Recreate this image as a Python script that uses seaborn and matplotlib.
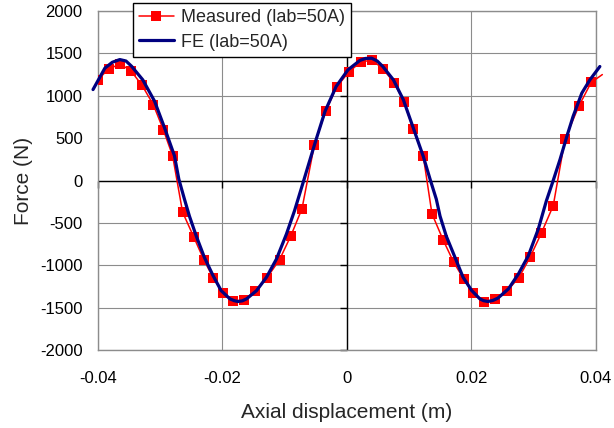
import numpy as np
import pandas as pd
import matplotlib
matplotlib.use('Agg')
import matplotlib.pyplot as plt
from matplotlib.lines import Line2D
import seaborn as sns

# Measured force vs axial displacement (lab = 50A)
meas_x = [-0.0400, -0.0383, -0.0364, -0.0347, -0.0329, -0.0311, -0.0295, -0.0280,
          -0.0264, -0.0246, -0.0230, -0.0215, -0.0199, -0.0183, -0.0165, -0.0148,
          -0.0128, -0.0108, -0.0090, -0.0072, -0.0052, -0.0034, -0.0016, 0.0004,
          0.0023, 0.0041, 0.0058, 0.0076, 0.0092, 0.0107, 0.0123, 0.0137,
          0.0155, 0.0172, 0.0188, 0.0203, 0.0221, 0.0239, 0.0257, 0.0277,
          0.0295, 0.0313, 0.0332, 0.0351, 0.0373, 0.0393, 0.0411]
meas_y = [1188, 1318, 1373, 1294, 1121, 894, 600, 291,
          -373, -667, -933, -1145, -1326, -1424, -1408, -1306,
          -1145, -933, -655, -333, 424, 815, 1106, 1286,
          1400, 1420, 1318, 1156, 929, 604, 291, -392,
          -702, -965, -1161, -1333, -1439, -1404, -1309, -1145,
          -902, -620, -298, 490, 875, 1157, 1250]

# FE prediction (lab = 50A)
fe_x = [-0.0408, -0.0389, -0.0377, -0.0365, -0.0355, -0.0346, -0.0328, -0.0309,
        -0.0293, -0.0277, -0.0270, -0.0261, -0.0253, -0.0242, -0.0229, -0.0215,
        -0.0202, -0.0188, -0.0181, -0.0175, -0.0168, -0.0161, -0.0145, -0.0129,
        -0.0113, -0.0097, -0.0084, -0.0070, -0.0051, -0.0035, -0.0017, 0.0002,
        0.0021, 0.0030, 0.0040, 0.0049, 0.0058, 0.0075, 0.0091, 0.0107,
        0.0123, 0.0134, 0.0144, 0.0150, 0.0160, 0.0174, 0.0187, 0.0201,
        0.0214, 0.0220, 0.0227, 0.0235, 0.0243, 0.0260, 0.0276, 0.0292,
        0.0308, 0.0321, 0.0332, 0.0343, 0.0354, 0.0364, 0.0378, 0.0391, 0.0407]
fe_y = [1073, 1325, 1395, 1427, 1410, 1348, 1188, 935,
        622, 290, 15, -220, -420, -655, -906, -1122,
        -1299, -1396, -1418, -1428, -1420, -1396, -1299, -1141,
        -926, -632, -357, -20, 443, 815, 1110, 1306,
        1416, 1440, 1443, 1410, 1345, 1188, 953, 620,
        286, 15, -220, -420, -655, -906, -1141, -1299,
        -1396, -1418, -1428, -1415, -1388, -1279, -1103, -888,
        -573, -240, 0, 249, 522, 757, 1031, 1188, 1345]

x_ticks = [-0.04, -0.02, 0, 0.02, 0.04]
x_tick_labels = ['-0.04', '-0.02', '0', '0.02', '0.04']
y_ticks = [-2000, -1500, -1000, -500, 0, 500, 1000, 1500, 2000]

meas = pd.DataFrame({'x': meas_x, 'y': meas_y})
fe = pd.DataFrame({'x': fe_x, 'y': fe_y})

sns.set_theme(style='white')
plt.rcParams['font.family'] = ['Liberation Sans', 'DejaVu Sans']
plt.rcParams['axes.unicode_minus'] = False

fig = plt.figure(figsize=(6.14, 4.28), dpi=100)
ax = fig.add_axes([98 / 614, 78 / 428, 497.5 / 614, 339 / 428])

grid_col = '#8c8c8c'
ax.set_xlim(-0.04, 0.04)
ax.set_ylim(-2000, 2000)
ax.set_xticks(x_ticks)
ax.set_xticklabels(x_tick_labels)
ax.set_yticks(y_ticks)
ax.grid(True, color=grid_col, lw=0.8)
ax.set_axisbelow(True)
for s in ax.spines.values():
    s.set_color(grid_col)
    s.set_linewidth(1.0)
ax.tick_params(axis='both', length=0, labelsize=12, colors='black')
ax.tick_params(axis='x', pad=15)
ax.tick_params(axis='y', pad=11)

# axes crossing at zero, Excel style
ax.axhline(0, color='black', lw=1.0, zorder=2)
ax.axvline(0, color='black', lw=1.0, zorder=2)
ax.plot(x_ticks, [0] * len(x_ticks), ls='', marker=3, ms=5, mew=1.0,
        color='black', clip_on=False, zorder=2)
ax.plot([0] * len(y_ticks), y_ticks, ls='', marker=0, ms=5, mew=1.0,
        color='black', clip_on=False, zorder=2)

# measured: thin line (runs a touch past the frame) + square markers
sns.lineplot(data=meas, x='x', y='y', ax=ax, color='red', lw=1.1,
             clip_on=False, zorder=3, sort=False)
sns.lineplot(data=meas, x='x', y='y', ax=ax, color='red', lw=0,
             marker='s', markersize=6.8, markeredgewidth=0, zorder=4, sort=False)
sns.lineplot(data=fe, x='x', y='y', ax=ax, color='#000080', lw=2.3,
             clip_on=False, zorder=5, sort=False)

ax.set_xlabel('Axial displacement (m)', fontsize=15)
ax.set_ylabel('Force (N)', fontsize=15)
ax.xaxis.set_label_coords(0.5, -0.157)
ax.yaxis.set_label_coords(-0.131, 0.5)

handles = [
    Line2D([], [], color='red', lw=1.1, marker='s', markersize=6.5, markeredgewidth=0),
    Line2D([], [], color='#000080', lw=2.3),
]
leg = fig.legend(handles, ['Measured (lab=50A)', 'FE (lab=50A)'],
                 loc='upper left', bbox_to_anchor=(133 / 614, 1 - 3 / 428),
                 bbox_transform=fig.transFigure, fontsize=13, frameon=True,
                 fancybox=False, framealpha=1, edgecolor='black',
                 handlelength=1.9, handletextpad=0.4, labelspacing=0.4,
                 borderpad=0.35, borderaxespad=0)
leg.get_frame().set_linewidth(1.0)

fig.savefig('out.png', dpi=100)
